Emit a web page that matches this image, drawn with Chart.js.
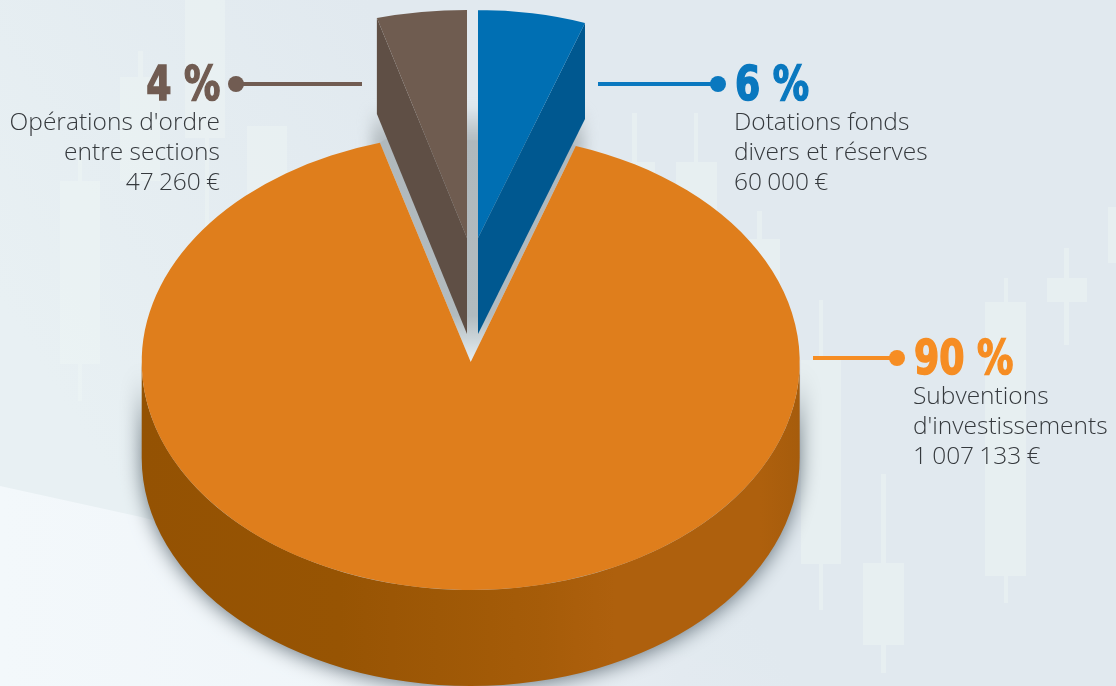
<!DOCTYPE html>
<html lang="fr">
<head>
<meta charset="utf-8">
<title>Répartition des dépenses d'investissement</title>
<script src="https://cdn.jsdelivr.net/npm/chart.js@4"></script>
<style>
  html, body { margin: 0; padding: 0; background: #e1e9ef; }
  #wrap { position: relative; width: 1116px; height: 686px; overflow: hidden; }
  canvas { position: absolute; left: 0; top: 0; }
  .pct { position: absolute; font: bold 48px/50px "DejaVu Sans Condensed", "DejaVu Sans", sans-serif;
         -webkit-text-stroke: 1.5px currentColor; white-space: pre; transform: scaleX(0.84); }
  .txt { position: absolute; font: 300 24.5px/30px "Open Sans", sans-serif; color: #35393d; white-space: pre-line; }
  .txt span { word-spacing: -1.2px; }
</style>
</head>
<body>
<div id="wrap">
  <canvas id="pie" width="1116" height="686"></canvas>
</div>
<script>
// Données, ordre horaire depuis le haut
const categories = ['Dotations fonds\ndivers et réserves', "Subventions\nd'investissements", "Opérations d'ordre\nentre sections"];
const amounts = [60000, 1007133, 47260];
const percentLabels = ['6 %', '90 %', '4 %'];
const amountLabels = ['60 000 €', '1 007 133 €', '47 260 €'];
const topColors = ['#006fb3', '#df7e1c', '#6f5c50'];
const sideColors = ['#005890', '#a35b08', '#5f4f45'];
const labelColors = ['#0a78bf', '#f68d23', '#715c52'];

// Mise en page
const center = { x: 470.7, y: 362, rx: 329, ry: 228, depth: 96 };
const tilt = 0.75 * Math.PI / 180;
const wedgePose = [
  { dx: 7.3, dy: -124, sx: 0.98, turn: tilt },
  { dx: 0, dy: 0, sx: 1, turn: 0 },
  { dx: -3.7, dy: -124, sx: 1.04, turn: tilt }
];
const callouts = [
  { from: [598, 84], to: [718, 84], side: 'left', x: 735, pctTop: 58, txtTop: 106 },
  { from: [813, 358], to: [897, 358], side: 'left', x: 914, pctTop: 332, txtTop: 380 },
  { from: [362, 84], to: [236, 84], side: 'right', x: 220, pctTop: 58, txtTop: 106 }
];
const textLeft = [734, 913, 220];
// Décor : chandeliers pâles en fond [x, y, w, h]
const backdrop = [
  [60, 181, 40, 183], [78, 155, 4, 26], [78, 364, 4, 37], [120, 77, 40, 104], [138, 51, 5, 26], [185, 0, 40, 138], [205, 138, 4, 90],
  [247, 126, 40, 90], [615, 162, 40, 60], [632, 113, 5, 50], [676, 162, 41, 60], [694, 113, 4, 50],
  [740, 239, 40, 90], [757, 211, 5, 28], [801, 360, 40, 204], [819, 300, 4, 60], [819, 564, 4, 46], [863, 563, 41, 82], [881, 474, 5, 89], [881, 645, 5, 28],
  [985, 302, 41, 274], [1004, 278, 4, 24], [1004, 576, 4, 27], [1047, 278, 40, 24], [1064, 248, 5, 30], [1064, 302, 5, 43], [1108, 207, 8, 56]
];

function drawBackdrop(ctx) {
  const bg = ctx.createLinearGradient(0, 300, 400, 50);
  bg.addColorStop(0, '#e8f0f3');
  bg.addColorStop(1, '#e1e9ef');
  ctx.fillStyle = bg;
  ctx.fillRect(0, 0, 1116, 686);
  ctx.fillStyle = 'rgba(240,248,246,0.4)';
  ctx.beginPath();
  backdrop.forEach(c => ctx.rect(c[0], c[1], c[2], c[3]));
  ctx.fill();
  const low = ctx.createLinearGradient(0, 0, 800, 0);
  low.addColorStop(0, '#f3f8fb');
  low.addColorStop(0.5, '#f0f5f9');
  low.addColorStop(0.85, '#e3eaf0');
  low.addColorStop(1, '#e1e9ef');
  ctx.fillStyle = low;
  ctx.beginPath();
  ctx.moveTo(0, 486);
  ctx.lineTo(141, 517);
  ctx.lineTo(800, 686);
  ctx.lineTo(0, 686);
  ctx.closePath();
  ctx.fill();
}

function rimPoint(angle, pose) {
  return {
    x: center.x + pose.dx + Math.cos(angle + pose.turn) * center.rx * pose.sx,
    y: center.y + pose.dy + Math.sin(angle + pose.turn) * center.ry
  };
}

// Paroi avant du disque
function drawWall(ctx, arc) {
  const from = Math.max(arc.startAngle, 0);
  const to = Math.min(arc.endAngle, Math.PI);
  const wall = ctx.createLinearGradient(center.x - center.rx, 0, center.x + center.rx, 0);
  const bands = [[0, '#945203'], [0.30, '#975403'], [0.38, '#9b5605'], [0.45, '#9e5806'], [0.53, '#a25a07'],
    [0.61, '#a65c09'], [0.66, '#aa5e0b'], [0.72, '#ae600d'], [0.94, '#ae600d'], [1, '#a65c0c']];
  bands.forEach(b => wall.addColorStop(b[0], b[1]));
  ctx.save();
  ctx.shadowColor = 'rgba(50,65,75,0.7)';
  ctx.shadowBlur = 20;
  ctx.shadowOffsetY = 2;
  ctx.fillStyle = wall;
  ctx.beginPath();
  ctx.ellipse(center.x, center.y, center.rx, center.ry, 0, from, to);
  ctx.ellipse(center.x, center.y + center.depth, center.rx, center.ry, 0, to, from, true);
  ctx.closePath();
  ctx.fill();
  ctx.restore();
}

// Fond gris de l'encoche derrière les parts sorties
function drawNotch(ctx, arc) {
  const a = rimPoint(arc.startAngle, wedgePose[1]);
  const b = rimPoint(arc.endAngle, wedgePose[1]);
  const g = ctx.createLinearGradient(0, 105, 0, center.y);
  g.addColorStop(0, 'rgba(176,184,188,0)');
  g.addColorStop(0.14, 'rgba(176,184,188,1)');
  g.addColorStop(0.82, '#b2bbbf');
  g.addColorStop(1, '#e6eff3');
  ctx.fillStyle = g;
  // ombre douce en haut, au-dessus du bord du disque
  ctx.save();
  ctx.filter = 'blur(7px)';
  ctx.beginPath();
  ctx.moveTo(b.x - 8, b.y + 10);
  ctx.lineTo(b.x - 8, 112);
  ctx.lineTo(a.x + 8, 112);
  ctx.lineTo(a.x + 8, a.y + 10);
  ctx.closePath();
  ctx.fill();
  ctx.restore();
  ctx.beginPath();
  ctx.moveTo(center.x, center.y);
  ctx.lineTo(a.x, a.y);
  ctx.lineTo(a.x - 6, a.y - 4);
  ctx.lineTo(b.x + 6, b.y - 4);
  ctx.lineTo(b.x, b.y);
  ctx.closePath();
  ctx.fill();
}

function drawTop(ctx, arc, pose) {
  ctx.save();
  ctx.translate(center.x + pose.dx, center.y + pose.dy);
  ctx.scale(pose.sx * center.rx / arc.outerRadius, center.ry / arc.outerRadius);
  ctx.rotate(pose.turn);
  ctx.translate(-arc.x, -arc.y);
  arc.draw(ctx);
  ctx.restore();
}

// Face de coupe visible d'une part sortie
function drawCutFace(ctx, arc, pose, color) {
  const edge = Math.abs(Math.cos(arc.endAngle + pose.turn)) > Math.abs(Math.cos(arc.startAngle + pose.turn)) ? arc.endAngle : arc.startAngle;
  const rim = rimPoint(edge, pose);
  const ax = center.x + pose.dx;
  const ay = center.y + pose.dy;
  ctx.fillStyle = color;
  ctx.beginPath();
  ctx.moveTo(ax, ay);
  ctx.lineTo(rim.x, rim.y);
  ctx.lineTo(rim.x, rim.y + center.depth);
  ctx.lineTo(ax, ay + center.depth);
  ctx.closePath();
  ctx.fill();
}

function drawCallouts(ctx) {
  callouts.forEach((c, i) => {
    ctx.strokeStyle = labelColors[i];
    ctx.fillStyle = labelColors[i];
    ctx.lineWidth = 4;
    ctx.beginPath();
    ctx.moveTo(c.from[0], c.from[1]);
    ctx.lineTo(c.to[0], c.to[1]);
    ctx.stroke();
    ctx.beginPath();
    ctx.arc(c.to[0], c.to[1], 8, 0, Math.PI * 2);
    ctx.fill();
  });
}

const pie3d = {
  id: 'pie3d',
  beforeDatasetsDraw(chart) {
    const ctx = chart.ctx;
    const arcs = chart.getDatasetMeta(0).data;
    drawBackdrop(ctx);
    drawNotch(ctx, arcs[1]);
    drawWall(ctx, arcs[1]);
    drawTop(ctx, arcs[1], wedgePose[1]);
    [2, 0].forEach(i => {
      drawCutFace(ctx, arcs[i], wedgePose[i], sideColors[i]);
      drawTop(ctx, arcs[i], wedgePose[i]);
    });
    drawCallouts(ctx);
    return false;
  }
};

new Chart(document.getElementById('pie'), {
  type: 'pie',
  data: {
    labels: categories,
    datasets: [{ data: amounts, backgroundColor: topColors, borderWidth: 0 }]
  },
  options: {
    responsive: false,
    animation: false,
    events: [],
    rotation: -0.75,
    plugins: { legend: { display: false }, tooltip: { enabled: false } }
  },
  plugins: [pie3d]
});

// Étiquettes en texte réel
const wrap = document.getElementById('wrap');
callouts.forEach((c, i) => {
  const place = x => c.side === 'left' ? 'left:' + x + 'px' : 'right:' + (1116 - x) + 'px';
  const pct = document.createElement('div');
  pct.className = 'pct';
  pct.style.cssText = place(c.x) + ';top:' + c.pctTop + 'px;color:' + labelColors[i] + ';transform-origin:' + c.side + ' center';
  pct.textContent = percentLabels[i];
  wrap.appendChild(pct);
  const txt = document.createElement('div');
  txt.className = 'txt';
  txt.style.cssText = place(textLeft[i]) + ';top:' + c.txtTop + 'px;text-align:' + c.side;
  txt.textContent = categories[i] + '\n';
  const amount = document.createElement('span');
  amount.textContent = amountLabels[i];
  txt.appendChild(amount);
  wrap.appendChild(txt);
});
</script>
</body>
</html>
